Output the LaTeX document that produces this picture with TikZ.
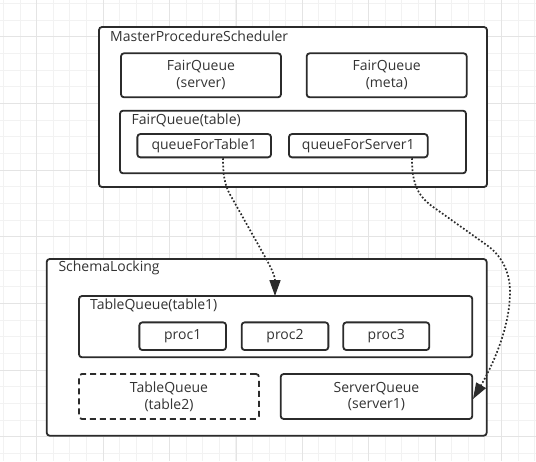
\documentclass[tikz,border=0pt]{standalone}
\usepackage{fontspec}
\setmainfont{Open Sans}
\usetikzlibrary{arrows.meta}
\definecolor{gridminor}{HTML}{F2F2F2}
\definecolor{gridmajor}{HTML}{E4E4E4}
\definecolor{stroke}{HTML}{2B2B2B}
\definecolor{txt}{HTML}{333333}
\begin{document}
\begin{tikzpicture}[x=1pt,y=-1pt,
  box/.style={draw=stroke,line width=1.8pt,rounded corners=3pt},
  lbl/.style={text=txt,font=\fontsize{14}{16.7}\selectfont,inner sep=0pt},
  conn/.style={draw=stroke,line width=1.7pt,dash pattern=on 1.7pt off 2pt,
    -{Triangle[length=16pt,width=11pt]}}]
\useasboundingbox (0,0) rectangle (536,461);
\fill[white] (0,0) rectangle (536,461);
% grid
\foreach \i in {0,...,32} {
  \draw[gridminor,line width=0.8pt] ({3.3+16.6*\i},0) -- ({3.3+16.6*\i},461);
}
\foreach \i in {0,...,27} {
  \draw[gridminor,line width=0.8pt] (0,{3.3+16.67*\i}) -- (536,{3.3+16.67*\i});
}
\foreach \i in {0,...,7} {
  \draw[gridmajor,line width=0.8pt] ({36.7+66.4*\i},0) -- ({36.7+66.4*\i},461);
}
\foreach \i in {0,...,6} {
  \draw[gridmajor,line width=0.8pt] (0,{36.7+66.67*\i}) -- (536,{36.7+66.67*\i});
}
% Master procedure scheduler
\draw[box,fill=white] (99,27) rectangle (487,187);
\node[lbl,anchor=west] (mpsl) at (110,36) {MasterProcedureScheduler};
\node[box,fill=white,minimum width=160pt,minimum height=44pt,lbl,align=center] (fqs) at (201,75.3) {FairQueue\\(server)};
\node[box,fill=white,minimum width=160pt,minimum height=44pt,lbl,align=center] (fqm) at (386.7,75.3) {FairQueue\\(meta)};
\draw[box,fill=white] (120,110.7) rectangle (466,173.3);
\node[lbl,anchor=west] (fqtl) at (131.5,120) {FairQueue(table)};
\node[box,fill=white,minimum width=133.7pt,minimum height=23.3pt,lbl] (qt1) at (204.2,145.7) {queueForTable1};
\node[box,fill=white,minimum width=138.7pt,minimum height=23.3pt,lbl] (qs1) at (358.3,145.7) {queueForServer1};
% Schema locking
\draw[box,fill=white] (46.7,259) rectangle (486.7,435.7);
\node[lbl,anchor=west] (sll) at (58.3,268) {SchemaLocking};
\draw[box,fill=white] (79,296) rectangle (472.3,357.3);
\coordinate (tq1top) at (275,296);
\node[lbl,anchor=west] (tq1l) at (90,305) {TableQueue(table1)};
\node[box,fill=white,minimum width=86.7pt,minimum height=27.7pt,lbl] (p1) at (182.7,336.2) {proc1};
\node[box,fill=white,minimum width=86.7pt,minimum height=27.7pt,lbl] (p2) at (285,336.2) {proc2};
\node[box,fill=white,minimum width=86pt,minimum height=27.7pt,lbl] (p3) at (386.3,336.2) {proc3};
\node[box,dashed,dash pattern=on 6pt off 4pt,fill=white,minimum width=180pt,minimum height=45pt,lbl,align=center] (tq2) at (169,396.5) {TableQueue\\(table2)};
\node[box,fill=white,minimum width=191.6pt,minimum height=45pt,lbl,align=center] (sq) at (376.5,396.5) {ServerQueue\\(server1)};
\coordinate (sqr) at (473,399);
% connectors
\draw[conn] (qt1.south -| 223,0) .. controls (223,180) and (226,188) .. (232,198)
  -- (264,255) .. controls (269,264) and (275,275) .. (tq1top);
\draw[conn] (qs1.south -| 412,0) .. controls (412,185) and (418,197) .. (436,209)
  -- (488,246) .. controls (504,258) and (510,275) .. (510,292)
  .. controls (510,330) and (490,370) .. (sqr);
\end{tikzpicture}
\end{document}
